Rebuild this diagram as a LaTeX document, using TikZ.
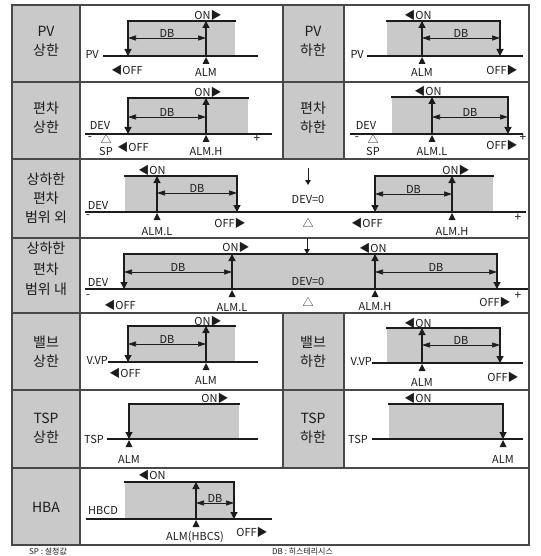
\documentclass[tikz,border=0pt]{standalone}
\usepackage{fontspec}
\setmainfont{Noto Sans CJK KR}
\usepackage{tikz}
\usetikzlibrary{arrows.meta, positioning}

\definecolor{framegray}{RGB}{72,72,72}
\definecolor{cellgray}{RGB}{201,201,201}
\definecolor{bandgray}{RGB}{201,201,201}
\definecolor{inkgray}{RGB}{28,28,28}

\tikzset{
  tablerule/.style={draw=framegray, line width=1.8pt},
  labelcell/.style={fill=cellgray},
  band/.style={fill=bandgray},
  onlevel/.style={draw=inkgray, line width=1.4pt, line cap=rect},
  axisline/.style={draw=inkgray, line width=1.4pt},
  edgearrow/.style={draw=inkgray, line width=1.3pt, -{Triangle[length=7pt,width=7pt]}},
  zeroarrow/.style={draw=inkgray, line width=0.9pt, -{Triangle[length=5pt,width=5.5pt]}},
  dbarrow/.style={draw=inkgray, line width=0.7pt, {Triangle[length=8pt,width=5pt]}-{Triangle[length=8pt,width=5pt]}},
  rowlabel/.style={font=\fontsize{14}{19}\selectfont, align=center, text=inkgray, inner sep=0pt},
  lbl/.style={font=\fontsize{11}{13}\selectfont, text=inkgray, inner sep=0pt},
  signlbl/.style={font=\fontsize{12}{14}\selectfont, text=inkgray, inner sep=0pt},
  notelbl/.style={font=\fontsize{8}{10}\selectfont, text=inkgray, inner sep=0pt, anchor=base west}
}

% band between xl and xr, ON level at #3, axis at #4
\newcommand{\hband}[4]{\fill[band] (#1,#3) rectangle (#2,#4);
  \draw[onlevel] (#1,#3) -- (#2,#3);}
% OFF edge: x, top, axis
\newcommand{\offedge}[3]{\draw[edgearrow] (#1,#2) -- (#1,#3);}
% ALM mark under the axis: x, axis
\newcommand{\almmark}[2]{\fill[inkgray] ({#1},{#2+1}) -- ({#1-3.5},{#2+8}) -- ({#1+3.5},{#2+8}) -- cycle;}
% ALM edge: x, top, axis
\newcommand{\almedge}[3]{\draw[edgearrow] (#1,#3) -- (#1,#2); \almmark{#1}{#3}}
% DB span: x1, x2, y, name
\newcommand{\dbspan}[4]{\draw[dbarrow] (#1,#3) -- (#2,#3) node (#4) [midway, above=0.5pt, lbl] {DB};}

\begin{document}
\begin{tikzpicture}[x=1pt, y=-1pt]
  \useasboundingbox (0,0) rectangle (540,556);
  \clip (0,0) rectangle (540,556);

  % --- Table ---
  \fill[labelcell] (12,5) rectangle (80,545);
  \fill[labelcell] (283,5) rectangle (344,159);
  \fill[labelcell] (283,313) rectangle (344,468);
  \foreach \y in {82,159,238,313,390,468}
    \draw[tablerule] (12,\y) -- (529,\y);
  \draw[tablerule] (80,5) -- (80,545);
  \draw[tablerule] (283,5) -- (283,159);
  \draw[tablerule] (344,5) -- (344,159);
  \draw[tablerule] (283,313) -- (283,468);
  \draw[tablerule] (344,313) -- (344,468);
  \draw[tablerule] (12,5) rectangle (529,545);

  % --- Row labels ---
  \node (pvhi) [rowlabel] at (46,41) {PV\\상한};
  \node (pvlo) [rowlabel] at (313,41) {PV\\하한};
  \node (devhi) [rowlabel] at (46,118) {편차\\상한};
  \node (devlo) [rowlabel] at (313,118) {편차\\하한};
  \node (outband) [rowlabel] at (46,198) {상하한\\편차\\범위 외};
  \node (inband) [rowlabel, font=\fontsize{14}{20.5}\selectfont] at (46,269) {상하한\\편차\\범위 내};
  \node (vvphi) [rowlabel] at (46,352) {밸브\\상한};
  \node (vvplo) [rowlabel] at (313,352) {밸브\\하한};
  \node (tsphi) [rowlabel] at (46,428) {TSP\\상한};
  \node (tsplo) [rowlabel] at (313,428) {TSP\\하한};
  \node (hba) [rowlabel] at (46,507) {HBA};

  % --- PV upper ---
  \hband{128}{235}{21}{56}
  \draw[axisline] (103,56) -- (258,56);
  \offedge{128}{21}{56}
  \almedge{206}{21}{56}
  \dbspan{128}{206}{38}{pvhidb}
  \node (pvhipv) [lbl, anchor=east] at (99,54) {PV};
  \node (pvhion) [lbl] at (208,15) {ON▶};
  \node (pvhioff) [lbl] at (127,70) {◀OFF};
  \node (pvhialm) [lbl] at (206,72) {ALM};

  % --- PV lower ---
  \hband{387}{500}{21}{56}
  \draw[axisline] (367,56) -- (523,56);
  \offedge{500}{21}{56}
  \almedge{422}{21}{56}
  \dbspan{422}{500}{38}{pvlodb}
  \node (pvlopv) [lbl, anchor=east] at (364,54) {PV};
  \node (pvloon) [lbl] at (418,15) {◀ON};
  \node (pvlooff) [lbl] at (502,70) {OFF▶};
  \node (pvloalm) [lbl] at (422,72) {ALM};

  % --- Deviation upper ---
  \hband{128}{248}{98}{134}
  \draw[axisline] (85,134) -- (272,134);
  \offedge{128}{98}{134}
  \almedge{206}{98}{134}
  \dbspan{128}{206}{117}{devhidb}
  \node (devhidev) [lbl] at (100,125) {DEV};
  \node (devhimin) [signlbl] at (90,139) {-};
  \node (devhisp) [lbl] at (106,139) {△};
  \node (devhisptxt) [lbl] at (106,151) {SP};
  \node (devhion) [lbl] at (208,92) {ON▶};
  \node (devhioff) [lbl] at (133,147) {◀OFF};
  \node (devhialm) [lbl] at (206,152) {ALM.H};
  \node (devhiplus) [signlbl] at (257,139) {+};

  % --- Deviation lower ---
  \hband{392}{508}{97}{134}
  \draw[axisline] (350,134) -- (523,134);
  \offedge{508}{97}{134}
  \almedge{432}{97}{134}
  \dbspan{432}{508}{117}{devlodb}
  \node (devlodev) [lbl] at (366,125) {DEV};
  \node (devlomin) [signlbl] at (357,139) {-};
  \node (devlosp) [lbl] at (373,139) {△};
  \node (devlosptxt) [lbl] at (373,151) {SP};
  \node (devloon) [lbl] at (428,91) {◀ON};
  \node (devlooff) [lbl] at (502,145) {OFF▶};
  \node (devloalm) [lbl] at (432,152) {ALM.L};
  \node (devloplus) [signlbl] at (523,138) {+};

  % --- Upper/lower deviation, out of range ---
  \hband{125}{237}{176}{212}
  \hband{375}{493}{176}{212}
  \draw[axisline] (85,212) -- (526,212);
  \offedge{237}{176}{212}
  \almedge{157}{176}{212}
  \dbspan{157}{237}{193}{outdbl}
  \offedge{375}{176}{212}
  \almedge{452}{176}{212}
  \dbspan{375}{452}{194}{outdbh}
  \node (outdev) [lbl] at (98,205) {DEV};
  \node (outmin) [signlbl] at (88,217) {-};
  \node (outonl) [lbl] at (152,170) {◀ON};
  \node (outalml) [lbl] at (157,232) {ALM.L};
  \node (outoffl) [lbl] at (230,223) {OFF▶};
  \coordinate (outzerotop) at (308,168);
  \node (outzero) [lbl] at (308,200) {DEV=0};
  \draw[zeroarrow] (outzerotop) -- (308,185);
  \node (outsp) [lbl] at (308,223) {△};
  \node (outonh) [lbl] at (456,170) {ON▶};
  \node (outoffh) [lbl] at (367,223) {◀OFF};
  \node (outalmh) [lbl] at (452,232) {ALM.H};
  \node (outplus) [signlbl] at (518,218) {+};

  % --- Upper/lower deviation, in range ---
  \hband{124}{497}{254}{289}
  \draw[axisline] (85,289) -- (528,289);
  \offedge{124}{254}{289}
  \almedge{232}{254}{289}
  \dbspan{124}{232}{272}{indbl}
  \almedge{375}{254}{289}
  \offedge{497}{254}{289}
  \dbspan{375}{497}{272}{indbh}
  \coordinate (inzerotop) at (307,238);
  \draw[zeroarrow] (inzerotop) -- (307,254);
  \node (indev) [lbl] at (98,282) {DEV};
  \node (inmin) [signlbl] at (88,297) {-};
  \node (inoffl) [lbl] at (120,305) {◀OFF};
  \node (inonl) [lbl] at (236,247) {ON▶};
  \node (inalml) [lbl] at (232,308) {ALM.L};
  \node (inzero) [lbl] at (308,282) {DEV=0};
  \node (insp) [lbl] at (308,302) {△};
  \node (inonh) [lbl] at (373,248) {◀ON};
  \node (inalmh) [lbl] at (375,307) {ALM.H};
  \node (inoffh) [lbl] at (495,302) {OFF▶};
  \node (inplus) [signlbl] at (518,296) {+};

  % --- Valve upper ---
  \hband{128}{235}{326}{362}
  \draw[axisline] (108,362) -- (258,362);
  \offedge{128}{326}{362}
  \almedge{206}{326}{362}
  \dbspan{128}{206}{344}{vvphidb}
  \node (vvphivvp) [lbl, anchor=east] at (108,361) {V.VP};
  \node (vvphion) [lbl] at (208,321) {ON▶};
  \node (vvphioff) [lbl] at (125,373) {◀OFF};
  \node (vvphialm) [lbl] at (206,380) {ALM};

  % --- Valve lower ---
  \hband{387}{500}{328}{363}
  \draw[axisline] (372,363) -- (523,363);
  \offedge{500}{328}{363}
  \almedge{422}{328}{363}
  \dbspan{422}{500}{345}{vvplodb}
  \node (vvplovvp) [lbl, anchor=east] at (372,362) {V.VP};
  \node (vvploon) [lbl] at (418,323) {◀ON};
  \node (vvplooff) [lbl] at (503,377) {OFF▶};
  \node (vvploalm) [lbl] at (422,382) {ALM};

  % --- TSP upper ---
  \hband{129}{239}{404}{439}
  \draw[axisline] (107,439) -- (258,439);
  \offedge{129}{404}{439}
  \almmark{129}{439}
  \node (tsphitsp) [lbl, anchor=east] at (104,439) {TSP};
  \node (tsphion) [lbl] at (215,398) {ON▶};
  \node (tsphialm) [lbl] at (129,459) {ALM};

  % --- TSP lower ---
  \hband{389}{503}{404}{439}
  \draw[axisline] (372,439) -- (523,439);
  \offedge{503}{404}{439}
  \almmark{503}{439}
  \node (tsplotsp) [lbl, anchor=east] at (368,439) {TSP};
  \node (tsploon) [lbl] at (418,398) {◀ON};
  \node (tsploalm) [lbl] at (503,459) {ALM};

  % --- HBA ---
  \hband{125}{234}{482}{519}
  \draw[axisline] (86,519) -- (272,519);
  \offedge{234}{482}{519}
  \almedge{196}{482}{519}
  \dbspan{196}{234}{503}{hbadb}
  \node (hbahbcd) [lbl] at (103,510) {HBCD};
  \node (hbaon) [lbl] at (152,475) {◀ON};
  \node (hbaalm) [lbl] at (195,537) {ALM(HBCS)};
  \node (hbaoff) [lbl] at (252,532) {OFF▶};

  % --- Notes ---
  \node (notesp) [notelbl] at (29,554) {SP : 설정값};
  \node (notedb) [notelbl] at (272,554) {DB : 히스테리시스};

\end{tikzpicture}
\end{document}
